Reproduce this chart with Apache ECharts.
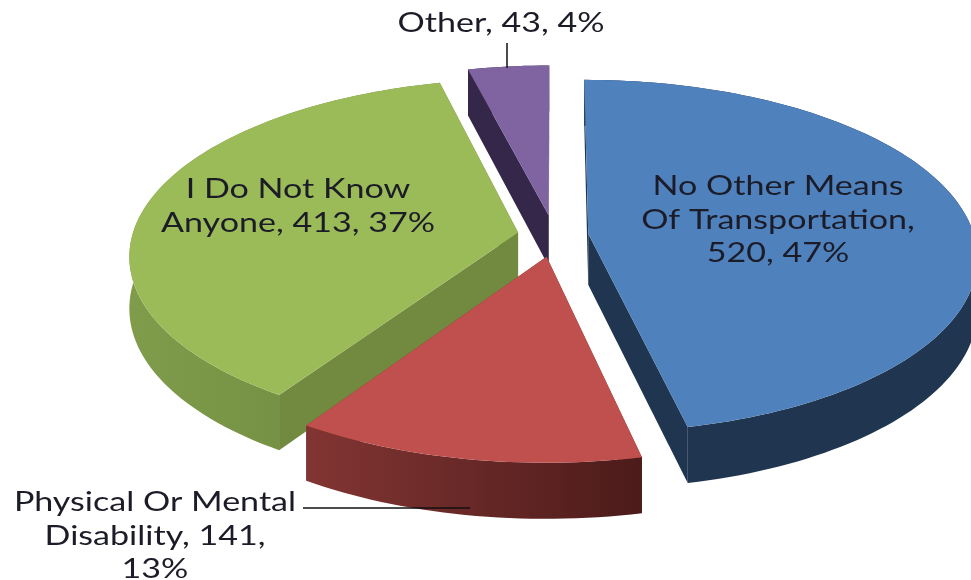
<!DOCTYPE html>
<html>
<head>
<meta charset="utf-8">
<style>
    html,body{margin:0;padding:0;background:#fff;}
    #main{width:971px;height:580px;}
</style>
<script src="https://cdn.jsdelivr.net/npm/echarts@6/dist/echarts.min.js"></script>
</head>
<body>
<div id="main"></div>
<script>
    var categories = ['No Other Means Of Transportation', 'Physical Or Mental Disability', 'I Do Not Know Anyone', 'Other'];
    var values = [520, 141, 413, 43];
    var labelLines = [
        ['No Other Means', 'Of Transportation,', '520, 47%'],
        ['Physical Or Mental', 'Disability, 141,', '13%'],
        ['I Do Not Know', 'Anyone, 413, 37%'],
        ['Other, 43, 4%']
    ];
    var topColors = ['#4f81bd', '#c0504d', '#9bbb59', '#8064a2'];
    var cutColors = ['#1f3550', '#7a3230', '#728a3f', '#34274a'];
    var wallFrom = ['#1f3550', '#823533', '#7f9c4b', '#34274a'];
    var wallTo = ['#1f3550', '#4c1b1a', '#6c863c', '#34274a'];

    // rough fit of the tilted pie in the picture, explode is in pie radii
    var pie = {cx: 553, cy: 236, rx: 386, ry: 174, persp: 0.127, depth: 51, explodeX: 0.092, explodeY: 0.12};
    var labelSpots = [[778, 170], [155, 486], [298, 173], [501, 7]];
    var leaders = [null, [[303, 508], [470, 508]], null, [[507, 43], [507, 68]]];
    var total = values.reduce(function(a, b){return a + b;}, 0);

    function project(mid, ang, frac){
        var u = Math.sin(ang) * frac + Math.sin(mid) * pie.explodeX;
        var v = -Math.cos(ang) * frac - Math.cos(mid) * pie.explodeY;
        var s = 1 / (1 - pie.persp * v);
        return [pie.cx + u * pie.rx * s, pie.cy + v * pie.ry * s];
    }
    function drop(p, ang){
        return [p[0], p[1] + pie.depth * (1 - 0.1 * Math.cos(ang))];
    }
    function renderSlice(params, api){
        var i = params.dataIndex;
        var before = 0;
        for(var k = 0; k < i; k++){
            before += values[k];
        }
        var a0 = before / total * Math.PI * 2;
        var a1 = (before + api.value(0)) / total * Math.PI * 2;
        var mid = (a0 + a1) / 2;
        var apex = project(mid, 0, 0);
        var arc = [], wall = [];
        var steps = Math.max(6, Math.round((a1 - a0) * 40));
        for(var n = 0; n <= steps; n++){
            var a = a0 + (a1 - a0) * n / steps;
            var p = project(mid, a, 1);
            arc.push(p);
            wall.unshift(drop(p, a));
        }
        var apexLow = [apex[0], apex[1] + pie.depth];
        var z = i === 1 ? 20 : 1;
        var children = [];
        // the two cut faces
        [[0, a0], [steps, a1]].forEach(function(c){
            children.push({
                type: 'polygon',
                z2: z,
                shape: {points: [apex, arc[c[0]], drop(arc[c[0]], c[1]), apexLow]},
                style: {fill: cutColors[i]}
            });
        });
        children.push({
            type: 'polygon',
            z2: z + 1,
            shape: {points: arc.concat(wall)},
            style: {
                fill: new echarts.graphic.LinearGradient(0, 0, 1, 0, [
                    {offset: 0, color: wallFrom[i]},
                    {offset: 1, color: wallTo[i]}
                ])
            }
        });
        children.push({
            type: 'polygon',
            z2: z + 2,
            shape: {points: [apex].concat(arc)},
            style: {fill: topColors[i]}
        });
        if(leaders[i]){
            children.push({
                type: 'polyline',
                z2: 50,
                shape: {points: leaders[i]},
                style: {stroke: '#111', lineWidth: 1.5, fill: null}
            });
        }
        children.push({
            type: 'text',
            z2: 60,
            x: labelSpots[i][0],
            y: labelSpots[i][1],
            scaleX: 1.31,
            style: {
                x: 0,
                y: 0,
                text: labelLines[i].join('\n'),
                font: '26px Lato',
                lineHeight: 33.5,
                align: 'center',
                verticalAlign: 'top',
                fill: '#1c1c28'
            }
        });
        return {type: 'group', children: children};
    }

    var option = {
        animation: false,
        backgroundColor: '#fff',
        series: [{
            type: 'custom',
            coordinateSystem: 'none',
            renderItem: renderSlice,
            data: values.map(function(v, i){
                return {name: categories[i], value: [v]};
            })
        }]
    };
    var chart = echarts.init(document.getElementById('main'));
    chart.setOption(option);
</script>
</body>
</html>
